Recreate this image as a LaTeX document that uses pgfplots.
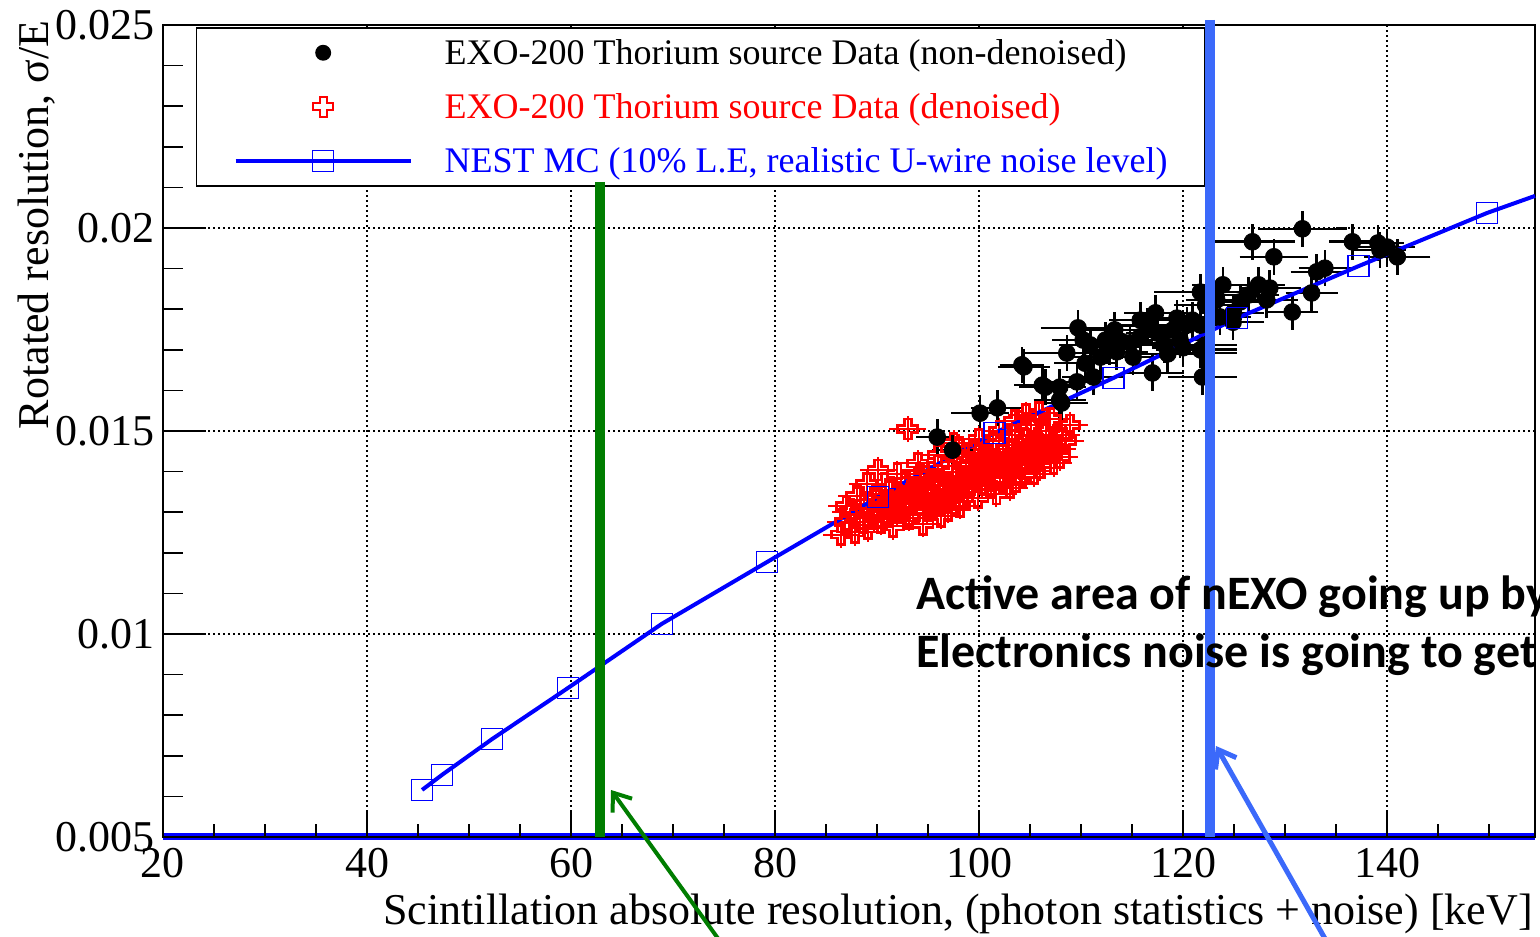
\documentclass[border=0pt]{standalone}
\usepackage{fontspec}
\setmainfont{Liberation Serif}
\newfontfamily\timesfont{Liberation Serif}
\newfontfamily\calibri{Carlito}
\usepackage{pgfplots}
\pgfplotsset{compat=1.18}
\usepackage{pgfplotstable}
\usetikzlibrary{arrows.meta}

\definecolor{annblue}{RGB}{59,105,250}
\definecolor{anngreen}{RGB}{0,125,0}

% open (hollow) cross, ROOT style 28
\pgfdeclareplotmark{ocross}{%
  \pgfpathmoveto{\pgfpoint{-0.35\pgfplotmarksize}{\pgfplotmarksize}}%
  \pgfpathlineto{\pgfpoint{0.35\pgfplotmarksize}{\pgfplotmarksize}}%
  \pgfpathlineto{\pgfpoint{0.35\pgfplotmarksize}{0.35\pgfplotmarksize}}%
  \pgfpathlineto{\pgfpoint{\pgfplotmarksize}{0.35\pgfplotmarksize}}%
  \pgfpathlineto{\pgfpoint{\pgfplotmarksize}{-0.35\pgfplotmarksize}}%
  \pgfpathlineto{\pgfpoint{0.35\pgfplotmarksize}{-0.35\pgfplotmarksize}}%
  \pgfpathlineto{\pgfpoint{0.35\pgfplotmarksize}{-\pgfplotmarksize}}%
  \pgfpathlineto{\pgfpoint{-0.35\pgfplotmarksize}{-\pgfplotmarksize}}%
  \pgfpathlineto{\pgfpoint{-0.35\pgfplotmarksize}{-0.35\pgfplotmarksize}}%
  \pgfpathlineto{\pgfpoint{-\pgfplotmarksize}{-0.35\pgfplotmarksize}}%
  \pgfpathlineto{\pgfpoint{-\pgfplotmarksize}{0.35\pgfplotmarksize}}%
  \pgfpathlineto{\pgfpoint{-0.35\pgfplotmarksize}{0.35\pgfplotmarksize}}%
  \pgfpathclose\pgfusepathqstroke}

% NEST MC points
\pgfplotstableread{
x y
45.4 0.00616
47.35 0.00653
52.25 0.00741
59.7 0.00867
68.9 0.01025
79.2 0.01177
90.1 0.01337
101.5 0.01495
113.2 0.01631
125.3 0.01778
137.2 0.01906
149.8 0.02037
}\mcpts

\pgfplotstableread{
x y
45.4 0.00616
47.35 0.00653
52.25 0.00741
59.7 0.00867
68.9 0.01025
79.2 0.01177
90.1 0.01337
101.5 0.01495
113.2 0.01631
125.3 0.01778
137.2 0.01906
149.8 0.02037
154.5 0.02079
}\mcline

% non-denoised data
\pgfplotstableread{
x y ex ey
131.7 0.01998 3.8 0.0003
126.8 0.01966 3.6 0.0003
128.9 0.01929 2.8 0.0003
136.6 0.01966 1.7 0.0003
139.1 0.01963 2.0 0.0003
140.0 0.01953 2.2 0.0003
141.0 0.01929 2.7 0.0003
139.3 0.01946 2.0 0.0003
133.1 0.01892 2.0 0.0003
133.9 0.01901 2.0 0.0003
132.6 0.01840 2.0 0.0003
130.7 0.01793 2.0 0.0003
127.4 0.01860 2.0 0.0003
128.5 0.01852 2.5 0.0003
123.9 0.01860 2.5 0.0003
121.7 0.01842 4.0 0.0003
125.6 0.01818 2.5 0.0003
126.4 0.01835 2.5 0.0003
124.9 0.01768 2.5 0.0003
123.6 0.01781 2.5 0.0003
117.3 0.01791 2.5 0.0003
119.4 0.01778 2.5 0.0003
120.9 0.01773 2.5 0.0003
109.7 0.01754 3.1 0.0003
113.3 0.01749 2.5 0.0003
110.2 0.01724 2.5 0.0003
108.6 0.01692 3.6 0.0003
104.2 0.01663 1.6 0.0003
106.2 0.01613 2.2 0.0003
107.9 0.01608 2.0 0.0003
107.9 0.01576 2.0 0.0003
110.4 0.01667 2.5 0.0003
111.9 0.01682 2.5 0.0003
113.5 0.01695 2.5 0.0003
114.8 0.01717 2.5 0.0003
115.8 0.01732 2.5 0.0003
117.5 0.01741 2.5 0.0003
119.0 0.01749 2.5 0.0003
120.4 0.01761 2.5 0.0003
121.7 0.01700 3.0 0.0003
121.9 0.01633 2.8 0.0003
117.0 0.01643 2.5 0.0003
111.2 0.01633 2.5 0.0003
109.6 0.01621 2.5 0.0003
112.8 0.01707 2.5 0.0003
115.1 0.01682 2.5 0.0003
121.7 0.01761 2.5 0.0003
123.3 0.01823 2.5 0.0003
124.9 0.01791 2.5 0.0003
128.2 0.01823 2.5 0.0003
100.1 0.01544 2.3 0.0003
101.8 0.01557 2.0 0.0003
95.9 0.01485 1.5 0.0003
97.4 0.01453 1.5 0.0003
108.1 0.01569 2.0 0.0003
106.5 0.01608 2.0 0.0003
104.4 0.01658 2.0 0.0003
110.9 0.01712 2.5 0.0003
112.4 0.01724 2.5 0.0003
118.2 0.01712 2.5 0.0003
119.7 0.01724 2.5 0.0003
115.8 0.01773 2.5 0.0003
122.2 0.01810 2.5 0.0003
122.2 0.01712 2.5 0.0003
122.2 0.01692 2.5 0.0003
114.0 0.01720 2.5 0.0003
116.5 0.01760 2.5 0.0003
118.5 0.01690 2.5 0.0003
120.0 0.01705 2.5 0.0003
}\rawdata

% denoised data
\pgfplotstableread{
x y ex ey
86.5 0.01245 1.3 0.0002
86.9 0.01275 1.3 0.0002
87.4 0.01300 1.3 0.0002
87.8 0.01250 1.3 0.0002
88.3 0.01285 1.3 0.0002
88.7 0.01320 1.3 0.0002
89.1 0.01260 1.3 0.0002
89.5 0.01300 1.3 0.0002
89.9 0.01340 1.3 0.0002
90.1 0.01404 1.3 0.0002
90.4 0.01275 1.3 0.0002
90.8 0.01315 1.3 0.0002
91.2 0.01355 1.3 0.0002
91.6 0.01265 1.3 0.0002
92.0 0.01300 1.3 0.0002
92.3 0.01340 1.3 0.0002
92.7 0.01375 1.3 0.0002
93.0 0.01505 1.3 0.0002
93.1 0.01285 1.3 0.0002
93.5 0.01320 1.3 0.0002
93.9 0.01360 1.3 0.0002
94.2 0.01395 1.3 0.0002
94.5 0.01270 1.3 0.0002
94.9 0.01305 1.3 0.0002
95.3 0.01345 1.3 0.0002
95.7 0.01380 1.3 0.0002
96.0 0.01415 1.3 0.0002
96.3 0.01290 1.3 0.0002
96.7 0.01330 1.3 0.0002
97.1 0.01365 1.3 0.0002
97.4 0.01400 1.3 0.0002
97.8 0.01435 1.3 0.0002
98.1 0.01315 1.3 0.0002
98.5 0.01350 1.3 0.0002
98.9 0.01385 1.3 0.0002
99.2 0.01420 1.3 0.0002
99.6 0.01455 1.3 0.0002
99.9 0.01335 1.3 0.0002
100.3 0.01370 1.3 0.0002
100.6 0.01405 1.3 0.0002
101.0 0.01440 1.3 0.0002
101.4 0.01475 1.3 0.0002
101.7 0.01345 1.3 0.0002
102.1 0.01385 1.3 0.0002
102.5 0.01420 1.3 0.0002
102.9 0.01455 1.3 0.0002
103.2 0.01490 1.3 0.0002
103.6 0.01375 1.3 0.0002
104.0 0.01410 1.3 0.0002
104.3 0.01445 1.3 0.0002
104.7 0.01480 1.3 0.0002
105.1 0.01515 1.3 0.0002
105.4 0.01395 1.3 0.0002
105.8 0.01430 1.3 0.0002
106.2 0.01465 1.3 0.0002
106.6 0.01500 1.3 0.0002
107.0 0.01530 1.3 0.0002
107.3 0.01420 1.3 0.0002
107.7 0.01455 1.3 0.0002
108.1 0.01490 1.3 0.0002
108.5 0.01475 1.3 0.0002
107.9 0.01435 1.3 0.0002
104.6 0.01540 1.3 0.0002
105.9 0.01545 1.3 0.0002
103.5 0.01525 1.3 0.0002
102.0 0.01500 1.3 0.0002
100.0 0.01480 1.3 0.0002
98.0 0.01460 1.3 0.0002
96.0 0.01440 1.3 0.0002
94.0 0.01420 1.3 0.0002
92.0 0.01395 1.3 0.0002
89.0 0.01370 1.3 0.0002
88.0 0.01340 1.3 0.0002
87.0 0.01315 1.3 0.0002
95.0 0.01330 1.3 0.0002
97.0 0.01305 1.3 0.0002
99.0 0.01365 1.3 0.0002
101.0 0.01395 1.3 0.0002
103.0 0.01360 1.3 0.0002
105.0 0.01460 1.3 0.0002
106.0 0.01410 1.3 0.0002
91.0 0.01290 1.3 0.0002
93.8 0.01335 1.3 0.0002
96.5 0.01355 1.3 0.0002
98.7 0.01415 1.3 0.0002
100.8 0.01425 1.3 0.0002
102.7 0.01405 1.3 0.0002
104.9 0.01425 1.3 0.0002
106.9 0.01480 1.3 0.0002
108.9 0.01515 1.3 0.0002
97.5 0.01470 1.3 0.0002
90.5 0.01345 1.3 0.0002
92.5 0.01320 1.3 0.0002
94.6 0.01375 1.3 0.0002
88.6 0.01275 1.3 0.0002
95.5 0.01310 1.3 0.0002
97.2 0.01340 1.3 0.0002
99.4 0.01395 1.3 0.0002
101.5 0.01410 1.3 0.0002
103.4 0.01430 1.3 0.0002
105.6 0.01470 1.3 0.0002
89.7 0.01285 1.3 0.0002
91.4 0.01325 1.3 0.0002
93.3 0.01350 1.3 0.0002
94.8 0.01355 1.3 0.0002
96.2 0.01375 1.3 0.0002
97.7 0.01390 1.3 0.0002
98.3 0.01370 1.3 0.0002
99.7 0.01390 1.3 0.0002
100.5 0.01445 1.3 0.0002
101.2 0.01365 1.3 0.0002
102.3 0.01440 1.3 0.0002
103.1 0.01395 1.3 0.0002
103.9 0.01465 1.3 0.0002
104.5 0.01395 1.3 0.0002
105.3 0.01440 1.3 0.0002
106.4 0.01445 1.3 0.0002
107.1 0.01460 1.3 0.0002
95.8 0.01320 1.3 0.0002
92.8 0.01305 1.3 0.0002
98.4 0.01335 1.3 0.0002
}\dndata

\begin{document}
\begin{tikzpicture}
% blue band under the bottom axis line
\begin{scope}[x=0.5pt,y=-0.5pt,yshift=468pt]
  \fill[blue] (163,833.5) rectangle (1535,840.5);
\end{scope}

\begin{axis}[
  at={(81.5pt,49.5pt)}, anchor=south west,
  scale only axis, width=686pt, height=406pt,
  xmin=20, xmax=154.5, ymin=0.005, ymax=0.025,
  clip=false,
  axis line style={black, line width=0.75pt},
  xtick={20,40,60,80,100,120,140},
  xticklabels={20,40,60,80,100,120,140},
  minor xtick={25,30,35,45,50,55,65,70,75,85,90,95,105,110,115,125,130,135,145,150},
  ytick={0.005,0.01,0.015,0.02,0.025},
  yticklabels={0.005,0.01,0.015,0.02,0.025},
  minor ytick={0.006,0.007,0.008,0.009,0.011,0.012,0.013,0.014,0.016,0.017,0.018,0.019,0.021,0.022,0.023,0.024},
  scaled ticks=false,
  xtick pos=bottom, ytick pos=left,
  tick align=inside,
  major tick length=21.5pt, minor tick length=10pt,
  x tick style={/pgfplots/major tick length=13pt, /pgfplots/minor tick length=6.5pt},
  tick style={black, line width=0.75pt},
  grid=major,
  grid style={black, line width=0.75pt, dash pattern=on 0.75pt off 1.75pt},
  /pgf/number format/assume math mode=true,
  tick label style={font=\timesfont\fontsize{22}{24}\selectfont},
  xticklabel style={inner sep=5.5pt},
  yticklabel style={inner sep=4pt},
  legend style={at={(0.024,0.9975)}, anchor=north west, draw=black,
    line width=0.75pt, fill=white, inner xsep=18.5pt, inner ysep=4.5pt,
    row sep=11pt, column sep=16pt, font=\timesfont\fontsize{18}{20}\selectfont,
    nodes={inner sep=0pt, text height=14pt, text depth=2pt}},
  legend cell align=left,
]

% denoised (red open crosses)
\addplot[red, only marks, mark=ocross, mark size=5pt,
  mark options={line width=1.4pt}, forget plot,
  error bars/.cd, x dir=both, x explicit, y dir=both, y explicit,
  error bar style={red, line width=1pt},
  error mark options={red, line width=1pt, mark size=2.5pt}]
  table[x=x, y=y, x error=ex, y error=ey] {\dndata};

% non-denoised (black dots)
\addplot[black, only marks, mark=*, mark size=4.2pt, forget plot,
  error bars/.cd, x dir=both, x explicit, y dir=both, y explicit,
  error bar style={black, line width=1.3pt},
  error mark options={black, line width=1.3pt, mark size=2.8pt}]
  table[x=x, y=y, x error=ex, y error=ey] {\rawdata};

% NEST MC
\addplot[blue, line width=2pt, forget plot] table {\mcline};
\addplot[blue, only marks, mark=square, mark size=5.25pt,
  mark options={line width=0.8pt}, forget plot] table {\mcpts};

\addlegendimage{legend image code/.code={%
  \path[draw=none] (0pt,0pt) -- (87.5pt,0pt);
  \fill[black] (43.75pt,0pt) circle (3.6pt);}}
\addlegendentry{EXO-200 Thorium source Data (non-denoised)}
\addlegendimage{legend image code/.code={%
  \path[draw=none] (0pt,0pt) -- (87.5pt,0pt);
  \draw[red, line width=0.9pt, mark=ocross, mark size=5pt] plot coordinates {(43.75pt,0pt)};}}
\addlegendentry{\textcolor{red}{EXO-200 Thorium source Data (denoised)}}
\addlegendimage{legend image code/.code={%
  \draw[blue, line width=2pt] (0pt,0pt) -- (87.5pt,0pt);
  \draw[blue, line width=0.75pt, mark=square, mark size=5.25pt] plot coordinates {(43.75pt,0pt)};}}
\addlegendentry{\textcolor{blue}{NEST MC (10\% L.E, realistic U-wire noise level)}}
\end{axis}

\begin{scope}[x=0.5pt,y=-0.5pt,yshift=468pt]
  % axis titles
  \node[anchor=base east, inner sep=0pt, font=\timesfont\fontsize{22}{24}\selectfont]
    at (1533,925) {Scintillation absolute resolution, (photon statistics + noise) [keV]};
  \node[anchor=base east, rotate=90, inner sep=0pt, font=\timesfont\fontsize{22}{24}\selectfont]
    at (48,20) {Rotated resolution, σ/E};
  % slide annotations
  \draw[anngreen, line width=5pt] (600,182) -- (600,837);
  \draw[annblue, line width=5pt] (1210,20) -- (1210,837);
  \node[anchor=base west, inner sep=0pt, font=\calibri\bfseries\fontsize{24}{28}\selectfont]
    at (916,610) {Active area of nEXO going up by};
  \node[anchor=base west, inner sep=0pt, font=\calibri\bfseries\fontsize{24}{28}\selectfont]
    at (916,668) {Electronics noise is going to get};
  \draw[anngreen, line width=2pt, -{Straight Barb[length=8pt,width=12pt]}]
    (722,944) -- (611,790);
  \draw[annblue, line width=2.5pt, -{Straight Barb[length=8pt,width=12pt]}]
    (1328,944) -- (1216,746);
\end{scope}

\pgfresetboundingbox
\useasboundingbox (0,0) rectangle (770pt,468pt);
\end{tikzpicture}
\end{document}
